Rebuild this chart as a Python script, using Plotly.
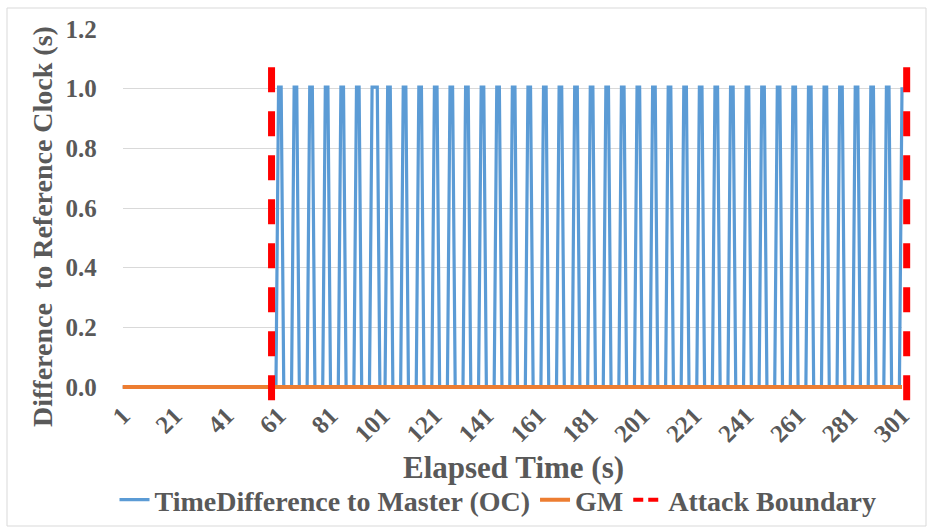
import plotly.graph_objects as go

# ---------------- data ----------------
elapsed = list(range(1, 302))  # categories 1..301
tick_vals = [1, 21, 41, 61, 81, 101, 121, 141, 161, 181, 201, 221, 241, 261, 281, 301]
tick_text = [str(v) for v in tick_vals]

H1 = 1.005
time_diff_oc = [
    0, 0, 0, 0, 0, 0, 0, 0, 0, 0,          # 1-10
    0, 0, 0, 0, 0, 0, 0, 0, 0, 0,          # 11-20
    0, 0, 0, 0, 0, 0, 0, 0, 0, 0,          # 21-30
    0, 0, 0, 0, 0, 0, 0, 0, 0, 0,          # 31-40
    0, 0, 0, 0, 0, 0, 0, 0, 0, 0,          # 41-50
    0, 0, 0, 0, 0, 0, 0, 0, 0, 0,          # 51-60
    H1, H1, 0, 0, 0, 0, H1, H1, 0, 0, 0, 0,   # 61-72
    H1, H1, 0, 0, 0, 0, H1, H1, 0, 0, 0, 0,   # 73-84
    H1, H1, 0, 0, 0, 0, H1, H1, 0, 0, 0, 0,   # 85-96
    H1, H1, H1, 0, 0, 0, H1, H1, 0, 0, 0, 0,  # 97-108
    H1, H1, 0, 0, 0, 0, H1, H1, 0, 0, 0, 0,   # 109-120
    H1, H1, 0, 0, 0, 0, H1, H1, 0, 0, 0, 0,   # 121-132
    H1, H1, 0, 0, 0, 0, H1, H1, 0, 0, 0, 0,   # 133-144
    H1, H1, 0, 0, 0, 0, H1, H1, 0, 0, 0, 0,   # 145-156
    H1, H1, 0, 0, 0, 0, H1, H1, 0, 0, 0, 0,   # 157-168
    H1, H1, 0, 0, 0, 0, H1, H1, 0, 0, 0, 0,   # 169-180
    H1, H1, 0, 0, 0, 0, H1, H1, 0, 0, 0, 0,   # 181-192
    H1, H1, 0, 0, 0, 0, H1, H1, 0, 0, 0, 0,   # 193-204
    H1, H1, 0, 0, 0, 0, H1, H1, 0, 0, 0, 0,   # 205-216
    H1, H1, 0, 0, 0, 0, H1, H1, 0, 0, 0, 0,   # 217-228
    H1, H1, 0, 0, 0, 0, H1, H1, 0, 0, 0, 0,   # 229-240
    H1, H1, 0, 0, 0, 0, H1, H1, 0, 0, 0, 0,   # 241-252
    H1, H1, 0, 0, 0, 0, H1, H1, 0, 0, 0, 0,   # 253-264
    H1, H1, 0, 0, 0, 0, H1, H1, 0, 0, 0, 0,   # 265-276
    H1, H1, 0, 0, 0, 0, H1, H1, 0, 0, 0, 0,   # 277-288
    H1, H1, 0, 0, 0, 0, H1, H1, 0, 0, 0, 0,   # 289-300
    H1,                                       # 301
]
gm = [0.0] * 301

boundary_x = [58.3, 58.3, None, 302.8, 302.8]
boundary_y = [1.072, -0.072, None, 1.072, -0.072]

# ---------------- layout geometry ----------------
W, H = 928, 528
PL, PR, PT, PB = 122.7, 902.0, 29.0, 387.0   # plot area in px
X_RANGE = [1, 301]
Y_RANGE = [0, 1.2]
xd = [PL / W, PR / W]
yd = [1 - PB / H, 1 - PT / H]
ppx = (PR - PL) / (X_RANGE[1] - X_RANGE[0])
ppy = (PB - PT) / (Y_RANGE[1] - Y_RANGE[0])
x2_range = [X_RANGE[0] - PL / ppx, X_RANGE[1] + (W - PR) / ppx]
y2_range = [Y_RANGE[0] - (H - PB) / ppy, Y_RANGE[1] + PT / ppy]

FONT = "Liberation Serif"
GRAY = "#595959"

fig = go.Figure()
# empty trace so the visible (tick/grid) subplot is created
fig.add_trace(go.Scatter(x=[None], y=[None], mode="lines", showlegend=False,
                         hoverinfo="skip", xaxis="x", yaxis="y"))
fig.add_trace(go.Scatter(
    x=elapsed, y=time_diff_oc, mode="lines", name="TimeDifference to Master (OC)",
    line=dict(color="#5B9BD5", width=3.2), xaxis="x2", yaxis="y2"))
fig.add_trace(go.Scatter(
    x=elapsed, y=gm, mode="lines", name="GM",
    line=dict(color="#ED7D31", width=4), xaxis="x2", yaxis="y2"))
fig.add_trace(go.Scatter(
    x=boundary_x, y=boundary_y, mode="lines", name="Attack Boundary", showlegend=False,
    line=dict(color="#FF0000", width=7, dash="25px,19px"), xaxis="x2", yaxis="y2"))
# legend key for the boundary (shorter dashes as in the legend)
fig.add_trace(go.Scatter(
    x=[None], y=[None], mode="lines", name="Attack Boundary",
    line=dict(color="#FF0000", width=4, dash="10px,5px"), xaxis="x2", yaxis="y2"))

fig.update_layout(
    width=W, height=H,
    margin=dict(l=0, r=0, t=0, b=0, autoexpand=False),
    paper_bgcolor="white", plot_bgcolor="rgba(0,0,0,0)",
    font=dict(family=FONT, color=GRAY, size=20, weight="bold"),
    xaxis=dict(domain=xd, range=X_RANGE, anchor="y", tickmode="array",
               tickvals=tick_vals, ticktext=tick_text, tickangle=-45,
               showgrid=False, zeroline=False, showline=False, ticks="",
               tickfont=dict(family=FONT, size=25, color=GRAY, weight="bold"),
               ticklabelstandoff=8, automargin=False),
    yaxis=dict(domain=yd, range=Y_RANGE, anchor="x", dtick=0.2, tick0=0,
               tickformat=".1f", showgrid=True, gridcolor="#D9D9D9", gridwidth=1,
               zeroline=False, showline=False, ticks="",
               tickfont=dict(family=FONT, size=25, color=GRAY, weight="bold"),
               ticklabelstandoff=25, automargin=False),
    xaxis2=dict(domain=[0, 1], range=x2_range, anchor="y2", visible=False),
    yaxis2=dict(domain=[0, 1], range=y2_range, anchor="x2", visible=False),
    legend=dict(orientation="h", x=498 / W, xanchor="center", y=1 - 500 / H,
                yanchor="middle", font=dict(family=FONT, size=28, color=GRAY, weight="bold"),
                itemwidth=30, bgcolor="rgba(0,0,0,0)", tracegroupgap=0),
    annotations=[
        dict(text="Elapsed Time (s)", xref="paper", yref="paper",
             x=513 / W, y=1 - 467 / H, xanchor="center", yanchor="middle",
             showarrow=False, font=dict(family=FONT, size=31, color=GRAY, weight="bold")),
        dict(text="Difference\u00a0 to Reference Clock (s)", xref="paper", yref="paper",
             x=42 / W, y=1 - 227 / H, xanchor="center", yanchor="middle", textangle=-90,
             showarrow=False, font=dict(family=FONT, size=28, color=GRAY, weight="bold")),
    ],
    shapes=[
        dict(type="rect", xref="paper", yref="paper", x0=7 / W, x1=926 / W,
             y0=1 - 526 / H, y1=1 - 8 / H, line=dict(color="#D9D9D9", width=1),
             fillcolor="rgba(0,0,0,0)", layer="below"),
    ],
)

fig.write_html("out.html")
